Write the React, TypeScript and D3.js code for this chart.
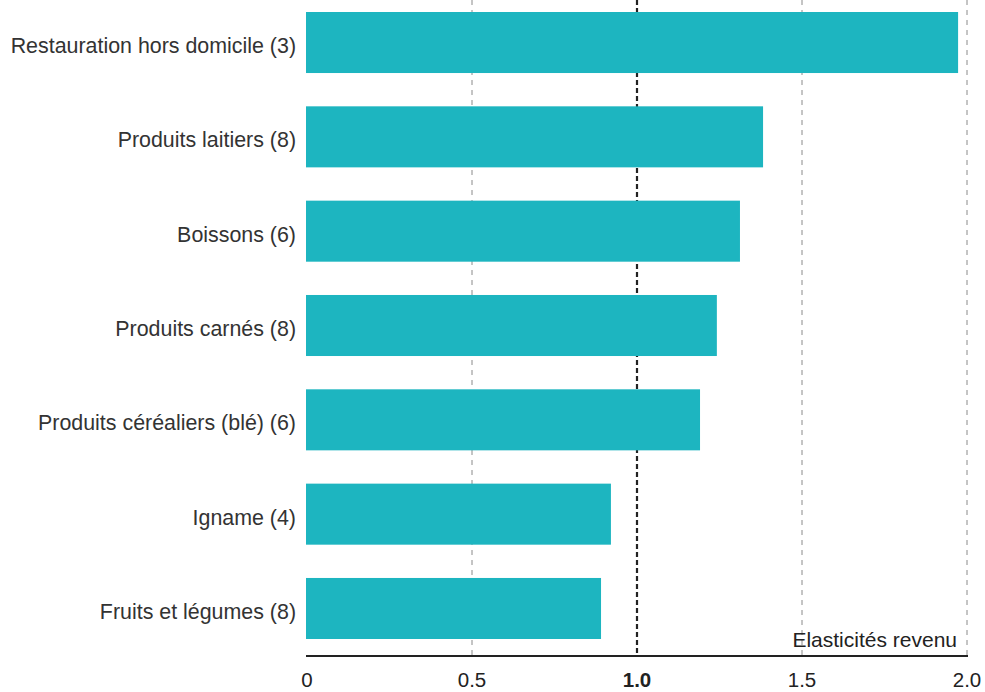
import React from "react";
import * as d3 from "d3";

const categories = [
  "Restauration hors domicile (3)",
  "Produits laitiers (8)",
  "Boissons (6)",
  "Produits carnés (8)",
  "Produits céréaliers (blé) (6)",
  "Igname (4)",
  "Fruits et légumes (8)",
];
const values = [1.973, 1.382, 1.312, 1.242, 1.191, 0.921, 0.891];
const ticks = [0, 0.5, 1.0, 1.5, 2.0];
const tickLabels = ["0", "0.5", "1.0", "1.5", "2.0"];
const axisTitle = "Elasticités revenu";

export default function App() {
  const W = 985, H = 692;
  const x = d3.scaleLinear().domain([0, 2]).range([307, 967]);
  const y = d3.scaleBand<string>().domain(categories).range([12, 639]).paddingInner(0.353).paddingOuter(0);
  const font = "'Liberation Sans', Arial, Helvetica, sans-serif";
  const axisY = 656;
  return (
    <svg width={W} height={H} style={{ position: "absolute", left: 0, top: 0, background: "#fff" }}>
      {ticks.filter(t => t > 0).map((t) => (
        <line key={"g" + t} x1={x(t)} x2={x(t)} y1={0} y2={axisY}
          stroke={t === 1 ? "#222" : "#8a8a8a"} strokeWidth={t === 1 ? 2.2 : 1}
          strokeDasharray={t === 1 ? "5,3" : "5,5"} />
      ))}
      {categories.map((c, i) => (
        <rect key={c} x={x(0) - 1} y={y(c)} width={x(values[i]) - x(0) + 1} height={y.bandwidth()} fill="#1DB5C0" />
      ))}
      {categories.map((c) => (
        <text key={"l" + c} x={296} y={(y(c) as number) + y.bandwidth() / 2 + 3} dy="0.35em" textAnchor="end"
          fontFamily={font} fontSize={21.4} fill="#333">{c}</text>
      ))}
      <line x1={x(0) - 1} x2={x(2) + 1} y1={axisY} y2={axisY} stroke="#222" strokeWidth={2} />
      {ticks.map((t, i) => (
        <text key={"t" + t} x={x(t)} y={687} textAnchor="middle" fontFamily={font} fontSize={20.5}
          fontWeight={t === 1 ? "bold" : "normal"} fill="#222">{tickLabels[i]}</text>
      ))}
      <text x={957} y={647} textAnchor="end" fontFamily={font} fontSize={21} fill="#222">{axisTitle}</text>
    </svg>
  );
}
